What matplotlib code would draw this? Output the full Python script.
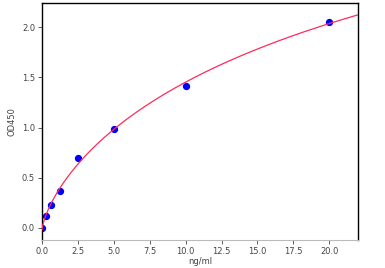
import numpy as np
import matplotlib
matplotlib.use("Agg")
import matplotlib.pyplot as plt

conc = [0.0, 0.3125, 0.625, 1.25, 2.5, 5.0, 10.0, 20.0]
od450 = [0.0, 0.12, 0.23, 0.37, 0.70, 0.99, 1.41, 2.05]
x_ticks = [0.0, 2.5, 5.0, 7.5, 10.0, 12.5, 15.0, 17.5, 20.0]
y_ticks = [0.0, 0.5, 1.0, 1.5, 2.0]

x = np.array(conc)
y = np.array(od450)

# 4PL fit: grid over b, c; linear least squares for a, d
best = None
for b in np.linspace(0.3, 2.0, 120):
    for c in np.exp(np.linspace(np.log(0.5), np.log(500), 200)):
        g = 1.0 / (1.0 + (x / c) ** b)
        A = np.column_stack([g, 1 - g])
        coef, *_ = np.linalg.lstsq(A, y, rcond=None)
        r = np.sum((A @ coef - y) ** 2)
        if best is None or r < best[0]:
            best = (r, b, c, coef)
_, b, c, (a, d) = best
xf = np.linspace(0, 22, 400)
yf = d + (a - d) / (1.0 + (xf / c) ** b)

fig = plt.figure(figsize=(3.85, 2.68), dpi=100)
ax = fig.add_axes([42/385, 1 - 240/268, 316/385, 237/268])
ax.scatter(x, y, s=18, color="#0000ff", zorder=2)
ax.plot(xf, yf, color="#ff2a5a", lw=0.9, zorder=3)
ax.set_xlim(0, 22)
ax.set_ylim(-0.12, 2.24)
ax.set_xticks(x_ticks)
ax.set_yticks(y_ticks)
ax.set_xticklabels([f"{v:.1f}" for v in x_ticks])
ax.set_yticklabels([f"{v:.1f}" for v in y_ticks])
ax.tick_params(labelsize=6, colors="#444444", length=3, width=0.6, pad=2)
ax.set_xlabel("ng/ml", fontsize=6, color="#444444", labelpad=1)
ax.set_ylabel("OD450", fontsize=6, color="#444444", labelpad=4)
for s in ["left", "top", "right"]:
    ax.spines[s].set_color("black")
    ax.spines[s].set_linewidth(1.0)
ax.spines["bottom"].set_color("#bbbbbb")
ax.spines["bottom"].set_linewidth(0.8)
fig.savefig("out.png", dpi=100)
